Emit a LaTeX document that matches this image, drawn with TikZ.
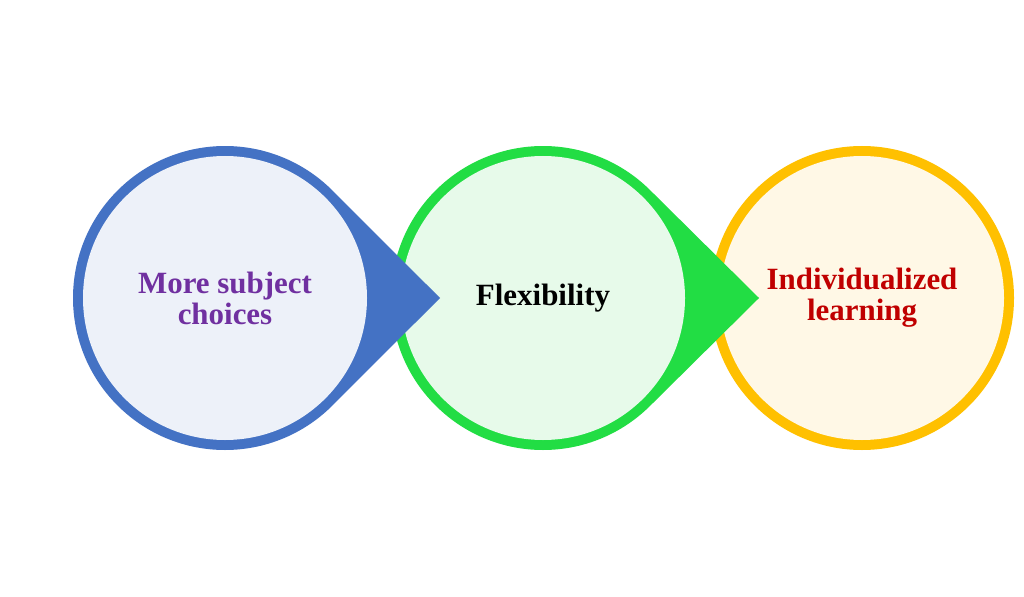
\documentclass[tikz,border=0pt]{standalone}
\usepackage{fontspec}
\setmainfont{Liberation Serif}
\usetikzlibrary{calc}
\definecolor{blueline}{HTML}{4472C4}
\definecolor{bluefill}{HTML}{EDF1F9}
\definecolor{greenline}{HTML}{22DD44}
\definecolor{greenfill}{HTML}{E7FAEA}
\definecolor{yellowline}{HTML}{FFC000}
\definecolor{yellowfill}{HTML}{FFF8E6}
\definecolor{purpletext}{HTML}{7030A0}
\definecolor{redtext}{HTML}{C00000}
\tikzset{
  caption/.style={font=\fontsize{22}{22}\selectfont\bfseries, align=center}
}
\begin{document}
\begin{tikzpicture}[x=0.025cm, y=-0.025cm]
	\useasboundingbox (0,0) rectangle (1024,597);
	%––––– centres –––––
	\coordinate (c1) at (225,298);
	\coordinate (c2) at (543,298);
	\coordinate (c3) at (862,298);
	\coordinate (tip1) at (440,298);
	\coordinate (tip2) at (759,298);

	%––––– bubbles, right to left –––––
	\fill[yellowline] (c3) circle[radius=152];
	\fill[yellowfill] (c3) circle[radius=142];
	\fill[greenline]
		($(c2)+(45:152)$) -- (tip2) -- ($(c2)+(-45:152)$)
		arc[start angle=-45, end angle=-315, radius=152] -- cycle;
	\fill[greenfill] (c2) circle[radius=142];
	\fill[blueline]
		($(c1)+(45:152)$) -- (tip1) -- ($(c1)+(-45:152)$)
		arc[start angle=-45, end angle=-315, radius=152] -- cycle;
	\fill[bluefill] (c1) circle[radius=142];

	%––––– texts –––––
	\node[caption, text=purpletext] (t1) at (c1) {More subject\\choices};
	\node[caption, text=black] (t2) at (c2) {Flexibility};
	\node[caption, text=redtext] (t3) at (c3) {Individualized\\learning};
\end{tikzpicture}
\end{document}
